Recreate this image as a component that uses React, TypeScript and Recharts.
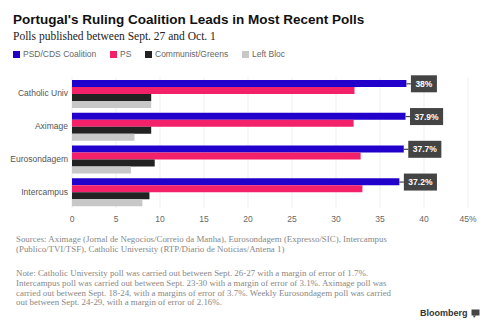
import React from "react";
import { BarChart, Bar, XAxis, YAxis, CartesianGrid, LabelList } from "recharts";

const pollsters = ["Catholic Univ", "Aximage", "Eurosondagem", "Intercampus"];
const psdCds = [38, 37.9, 37.7, 37.2];
const ps = [32.1, 32.0, 32.8, 33.0];
const communist = [9.0, 9.0, 9.4, 8.8];
const leftBloc = [9.0, 7.1, 6.7, 8.0];
const xTicks = [0, 5, 10, 15, 20, 25, 30, 35, 40, 45];

const series = [
  { key: "psdCds", name: "PSD/CDS Coalition", color: "#2200cc" },
  { key: "ps", name: "PS", color: "#f2216a" },
  { key: "communist", name: "Communist/Greens", color: "#222222" },
  { key: "leftBloc", name: "Left Bloc", color: "#c8c8c8" },
];

const data = pollsters.map((p, i) => ({
  name: p,
  psdCds: psdCds[i],
  ps: ps[i],
  communist: communist[i],
  leftBloc: leftBloc[i],
}));

const charW = (c: string) => (c === "." ? 0.278 : c === "%" ? 0.889 : 0.556);

const sans = "Liberation Sans, Arial, sans-serif";
const serif = "Liberation Serif, Times New Roman, serif";

const ValueTag = (props: any) => {
  const { x, y, width, height, value } = props;
  const label = `${value}%`;
  const fs = 8.5;
  const tw = label.split("").reduce((s: number, c: string) => s + charW(c), 0) * fs;
  const bw = tw + 9;
  const cy = y + height / 2 + 0.3;
  const bx = x + width + 4.5;
  return (
    <g>
      <line x1={x + width} x2={bx} y1={cy} y2={cy} stroke="#444" strokeWidth={1.2} />
      <rect x={bx} y={cy - 8.5} width={bw} height={17} fill="#444444" />
      <text x={bx + bw / 2} y={cy + 3} textAnchor="middle" fill="#ffffff" fontSize={fs} fontWeight="bold" fontFamily={sans}>
        {label}
      </text>
    </g>
  );
};

const YTick = (props: any) => {
  const { x, y, payload } = props;
  return (
    <text x={x} y={y + 3} textAnchor="end" fontSize={8.5} fill="#555" fontFamily={sans}>
      {payload.value}
    </text>
  );
};

export default function App() {
  const legendPos = [13, 110, 145, 242];
  const foot = { position: "absolute" as const, left: 16, width: 470, fontFamily: serif, fontSize: 8.9, color: "#888", lineHeight: "9.8px" };
  return (
    <div style={{ position: "absolute", left: 0, top: 0, width: 488, height: 328, background: "#fff", overflow: "hidden" }}>
      <div style={{ position: "absolute", left: 13, top: 12, fontFamily: sans, fontWeight: "bold", fontSize: 13.5, color: "#111", whiteSpace: "nowrap", lineHeight: "16px" }}>
        Portugal's Ruling Coalition Leads in Most Recent Polls
      </div>
      <div style={{ position: "absolute", left: 13, top: 29, fontFamily: serif, fontSize: 11.5, color: "#222", whiteSpace: "nowrap", lineHeight: "14px" }}>
        Polls published between Sept. 27 and Oct. 1
      </div>
      {series.map((s, i) => (
        <div key={s.key} style={{ position: "absolute", left: legendPos[i], top: 50, height: 9, display: "flex", alignItems: "center", whiteSpace: "nowrap" }}>
          <div style={{ width: 7, height: 7, background: s.color, marginRight: 3 }} />
          <span style={{ fontFamily: sans, fontSize: 8.5, color: "#666", lineHeight: "9px" }}>{s.name}</span>
        </div>
      ))}
      <div style={{ position: "absolute", left: 0, top: 0 }}>
        <BarChart
          width={488}
          height={230}
          data={data}
          layout="vertical"
          margin={{ top: 77, right: 20, bottom: 2, left: 0 }}
          barCategoryGap={3}
          barGap={0}
        >
          <CartesianGrid horizontal={false} stroke="#efefef" />
          <XAxis
            type="number"
            domain={[0, 45]}
            ticks={xTicks}
            interval={0}
            axisLine={false}
            tickLine={false}
            tickSize={6}
            height={20}
            tick={{ fontSize: 8.5, fill: "#666", fontFamily: sans }}
            tickFormatter={(v: number) => (v === 45 ? "45%" : String(v))}
          />
          <YAxis
            type="category"
            dataKey="name"
            width={72}
            axisLine={false}
            tickLine={false}
            tickSize={2}
            tickMargin={2}
            tick={<YTick />}
          />
          {series.map((s) => (
            <Bar key={s.key} dataKey={s.key} name={s.name} fill={s.color} isAnimationActive={false}>
              {s.key === "psdCds" ? <LabelList dataKey="psdCds" content={ValueTag} /> : null}
            </Bar>
          ))}
        </BarChart>
      </div>
      <div style={{ ...foot, top: 235 }}>
        <div style={{ whiteSpace: "nowrap" }}>Sources: Aximage (Jornal de Negocios/Correio da Manha), Eurosondagem (Expresso/SIC), Intercampus</div>
        <div style={{ whiteSpace: "nowrap" }}>(Publico/TVI/TSF), Catholic University (RTP/Diario de Noticias/Antena 1)</div>
      </div>
      <div style={{ ...foot, top: 269 }}>
        <div style={{ whiteSpace: "nowrap" }}>Note: Catholic University poll was carried out between Sept. 26-27 with a margin of error of 1.7%.</div>
        <div style={{ whiteSpace: "nowrap" }}>Intercampus poll was carried out between Sept. 23-30 with a margin of error of 3.1%. Aximage poll was</div>
        <div style={{ whiteSpace: "nowrap" }}>carried out between Sept. 18-24, with a margins of error of 3.7%. Weekly Eurosondagem poll was carried</div>
        <div style={{ whiteSpace: "nowrap" }}>out between Sept. 24-29, with a margin of error of 2.16%.</div>
      </div>
      <div style={{ position: "absolute", left: 420, top: 308, display: "flex", alignItems: "center", whiteSpace: "nowrap" }}>
        <span style={{ fontFamily: sans, fontWeight: "bold", fontSize: 9, color: "#333", lineHeight: "10px" }}>Bloomberg</span>
        <svg width={9} height={9} style={{ marginLeft: 3 }}>
          <rect x={0.5} y={0.5} width={8} height={6} fill="#444" />
          <polygon points="2,6.5 5,6.5 3,9" fill="#444" />
        </svg>
      </div>
    </div>
  );
}
